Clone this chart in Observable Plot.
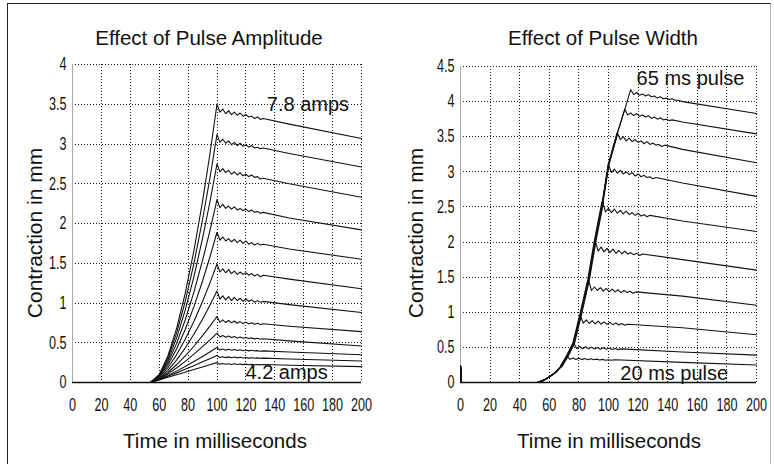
<!DOCTYPE html>
<html>
<head>
<meta charset="utf-8">
<script src="https://cdn.jsdelivr.net/npm/d3@7"></script>
<script src="https://cdn.jsdelivr.net/npm/@observablehq/plot@0.6"></script>
<style>
  body { margin: 0; background: #fff; }
  #page { position: relative; width: 774px; height: 464px; overflow: hidden; background: #fff;
          font-family: "Liberation Sans", Arial, sans-serif; color: #111; }
  .frame { position: absolute; left: 7px; top: 3px; width: 762px; height: 480px;
           border-left: 1.5px solid #222; border-top: 1.5px solid #222; border-right: 1px solid #bbb; }
  .panel { position: absolute; top: 0; }
  .title, .xlab { position: absolute; font-size: 20.5px; white-space: nowrap; transform: translateX(-50%); line-height: normal; }
  .ylab { position: absolute; font-size: 21px; white-space: nowrap; line-height: normal;
          transform: translate(-50%, -50%) rotate(-90deg); }
</style>
</head>
<body>
<div id="page">
  <div class="frame"></div>
  <div id="left" class="panel" style="left:0px"></div>
  <div id="right" class="panel" style="left:387px"></div>
  <div class="title" style="left:209px; top:26px">Effect of Pulse Amplitude</div>
  <div class="title" style="left:603px; top:26px">Effect of Pulse Width</div>
  <div class="xlab" style="left:215px; top:429px">Time in milliseconds</div>
  <div class="xlab" style="left:609px; top:429px">Time in milliseconds</div>
  <div class="ylab" style="left:35px; top:233px">Contraction in mm</div>
  <div class="ylab" style="left:416px; top:233px">Contraction in mm</div>
</div>
<script>
// ---------- axis ticks ----------
const timeTicks = [0, 20, 40, 60, 80, 100, 120, 140, 160, 180, 200];
const ampYTicks = [0, 0.5, 1, 1.5, 2, 2.5, 3, 3.5, 4];
const widthYTicks = [0, 0.5, 1, 1.5, 2, 2.5, 3, 3.5, 4, 4.5];

// ---------- left panel: effect of pulse amplitude (4.2 .. 7.8 amps) ----------
const ampRiseTimes = [0, 50, 54, 60, 66, 72, 78, 84, 90, 95];
const ampPeakTime = 100;
const ampRippleTimes = [102, 104, 106, 108, 110, 112, 114, 116, 118, 120, 122, 124, 126, 128, 130, 132, 150, 200];
const ampPeaks = [3.50, 3.12, 2.75, 2.30, 1.89, 1.49, 1.15, 0.83, 0.62, 0.44, 0.34, 0.25];
const ampRise = [
  [0, 0, 0, 0.099, 0.333, 0.678, 1.121, 1.657, 2.279, 2.862],
  [0, 0, 0, 0.094, 0.310, 0.621, 1.019, 1.496, 2.047, 2.560],
  [0, 0, 0, 0.086, 0.280, 0.558, 0.910, 1.330, 1.813, 2.261],
  [0, 0, 0, 0.080, 0.250, 0.489, 0.786, 1.136, 1.535, 1.902],
  [0, 0, 0, 0.073, 0.220, 0.421, 0.667, 0.954, 1.277, 1.572],
  [0, 0, 0, 0.063, 0.186, 0.348, 0.544, 0.768, 1.019, 1.247],
  [0, 0, 0, 0.054, 0.153, 0.281, 0.433, 0.606, 0.796, 0.968],
  [0, 0, 0, 0.048, 0.126, 0.223, 0.334, 0.456, 0.589, 0.706],
  [0, 0, 0, 0.044, 0.108, 0.183, 0.266, 0.356, 0.451, 0.534],
  [0, 0, 0, 0.038, 0.088, 0.143, 0.202, 0.263, 0.328, 0.383],
  [0, 0, 0, 0.036, 0.078, 0.121, 0.166, 0.212, 0.260, 0.300],
  [0, 0, 0, 0.033, 0.065, 0.098, 0.130, 0.163, 0.196, 0.223]
];
const ampDecay = [
  [3.40, 3.44, 3.38, 3.42, 3.37, 3.40, 3.36, 3.39, 3.35, 3.37, 3.34, 3.35, 3.32, 3.34, 3.31, 3.32, 3.25, 3.07],
  [3.02, 3.06, 3.01, 3.04, 2.99, 3.02, 2.98, 3.01, 2.97, 2.99, 2.96, 2.98, 2.95, 2.96, 2.94, 2.95, 2.88, 2.71],
  [2.65, 2.69, 2.64, 2.67, 2.62, 2.65, 2.61, 2.64, 2.60, 2.62, 2.59, 2.61, 2.58, 2.59, 2.56, 2.57, 2.50, 2.33],
  [2.20, 2.24, 2.19, 2.22, 2.18, 2.21, 2.17, 2.19, 2.16, 2.18, 2.15, 2.17, 2.14, 2.15, 2.13, 2.14, 2.07, 1.92],
  [1.79, 1.83, 1.78, 1.81, 1.77, 1.80, 1.76, 1.79, 1.75, 1.78, 1.74, 1.76, 1.73, 1.75, 1.73, 1.74, 1.68, 1.55],
  [1.39, 1.43, 1.38, 1.42, 1.37, 1.40, 1.36, 1.39, 1.36, 1.38, 1.35, 1.37, 1.34, 1.36, 1.33, 1.35, 1.30, 1.18],
  [1.05, 1.09, 1.04, 1.08, 1.03, 1.07, 1.03, 1.06, 1.02, 1.05, 1.02, 1.04, 1.01, 1.03, 1.01, 1.02, 0.98, 0.88],
  [0.757, 0.787, 0.754, 0.780, 0.750, 0.773, 0.746, 0.766, 0.741, 0.759, 0.738, 0.752, 0.733, 0.746, 0.730, 0.739, 0.708, 0.64],
  [0.573, 0.591, 0.570, 0.585, 0.565, 0.579, 0.561, 0.573, 0.557, 0.567, 0.553, 0.561, 0.549, 0.556, 0.545, 0.550, 0.523, 0.46],
  [0.409, 0.422, 0.407, 0.418, 0.405, 0.414, 0.403, 0.412, 0.400, 0.408, 0.398, 0.405, 0.397, 0.401, 0.394, 0.398, 0.384, 0.35],
  [0.314, 0.325, 0.313, 0.322, 0.311, 0.320, 0.310, 0.317, 0.308, 0.315, 0.307, 0.312, 0.305, 0.310, 0.304, 0.307, 0.296, 0.27],
  [0.229, 0.238, 0.229, 0.236, 0.227, 0.235, 0.227, 0.232, 0.225, 0.231, 0.224, 0.228, 0.224, 0.227, 0.222, 0.226, 0.217, 0.20]
];
const ampNoteText = ["7.8 amps", "4.2 amps"];
const ampNoteX = [134.5, 119.7];
const ampNoteY = [3.5, 0.126];

// ---------- right panel: effect of pulse width (20 .. 65 ms) ----------
const widthRiseTimes = [0, 0.6, 52, 56, 60, 64, 68];
const widthRiseValues = [0.24, 0, 0, 0.03, 0.08, 0.14, 0.23];
const widthPeakTimes = [72, 76.5, 81, 86.5, 91, 96, 100, 106, 111, 115];
const widthPeaks = [0.37, 0.56, 0.95, 1.46, 2.02, 2.56, 3.10, 3.55, 3.89, 4.17];
const widthRippleStep = 2; // ms between ripple samples after each peak
const widthTailTimes = [150, 200];
const widthDecay = [
  [0.330, 0.349, 0.328, 0.344, 0.326, 0.341, 0.324, 0.337, 0.323, 0.333, 0.320, 0.329, 0.318, 0.325, 0.316, 0.323, 0.286, 0.25],
  [0.483, 0.515, 0.481, 0.509, 0.479, 0.504, 0.477, 0.498, 0.475, 0.494, 0.472, 0.488, 0.470, 0.483, 0.468, 0.479, 0.435, 0.39],
  [0.844, 0.892, 0.840, 0.882, 0.836, 0.874, 0.832, 0.864, 0.828, 0.856, 0.824, 0.847, 0.819, 0.839, 0.815, 0.830, 0.78, 0.68],
  [1.31, 1.36, 1.31, 1.35, 1.30, 1.34, 1.29, 1.33, 1.29, 1.32, 1.28, 1.31, 1.28, 1.30, 1.27, 1.29, 1.23, 1.10],
  [1.87, 1.93, 1.86, 1.91, 1.85, 1.90, 1.84, 1.88, 1.83, 1.87, 1.83, 1.85, 1.82, 1.84, 1.81, 1.83, 1.75, 1.60],
  [2.43, 2.48, 2.42, 2.47, 2.41, 2.45, 2.40, 2.44, 2.39, 2.42, 2.38, 2.41, 2.37, 2.39, 2.36, 2.38, 2.30, 2.15],
  [2.99, 3.04, 2.98, 3.02, 2.97, 3.00, 2.96, 2.99, 2.94, 2.97, 2.93, 2.95, 2.92, 2.93, 2.90, 2.92, 2.84, 2.65],
  [3.46, 3.50, 3.44, 3.48, 3.43, 3.46, 3.42, 3.44, 3.40, 3.43, 3.39, 3.41, 3.38, 3.39, 3.36, 3.38, 3.32, 3.13],
  [3.81, 3.84, 3.80, 3.83, 3.79, 3.81, 3.78, 3.80, 3.76, 3.78, 3.75, 3.77, 3.74, 3.75, 3.73, 3.74, 3.71, 3.54],
  [4.10, 4.13, 4.09, 4.11, 4.08, 4.10, 4.07, 4.08, 4.05, 4.07, 4.04, 4.05, 4.03, 4.04, 4.02, 4.02, 4.00, 3.83]
];
const widthNoteText = ["65 ms pulse", "20 ms pulse"];
const widthNoteX = [119, 108];
const widthNoteY = [4.33, 0.12];

// ---------- build tables ----------
const ampPoints = [];
ampPeaks.forEach((p, i) => {
  ampRiseTimes.forEach((t, j) => ampPoints.push({curve: i, t, v: ampRise[i][j]}));
  ampPoints.push({curve: i, t: ampPeakTime, v: p});
  ampRippleTimes.forEach((t, j) => ampPoints.push({curve: i, t, v: ampDecay[i][j]}));
});

const risePts = widthRiseTimes.map((t, j) => ({t, v: widthRiseValues[j]}));
const peakPts = widthPeakTimes.map((t, j) => ({t, v: widthPeaks[j]}));
const widthPoints = [];
widthPeaks.forEach((p, i) => {
  risePts.forEach(d => widthPoints.push({curve: i, t: d.t, v: d.v}));
  peakPts.slice(0, i + 1).forEach(d => widthPoints.push({curve: i, t: d.t, v: d.v}));
  const tp = widthPeakTimes[i];
  const n = widthDecay[i].length - widthTailTimes.length;
  widthDecay[i].forEach((v, k) => {
    const t = k < n ? tp + widthRippleStep * (k + 1) : widthTailTimes[k - n];
    widthPoints.push({curve: i, t, v});
  });
});
const thickLower = [risePts[risePts.length - 1], ...peakPts.slice(0, 6)];
const thickUpper = peakPts.slice(5, 8);

const notes = (texts, xs, ys) => texts.map((text, i) => ({text, x: xs[i], y: ys[i]}));

const gridStyle = {stroke: "#000", strokeWidth: 1, strokeDasharray: "1,2", strokeOpacity: 0.9, shapeRendering: "crispEdges"};
const tickFont = '"Liberation Sans", Arial, sans-serif';

// tick labels in the original are tall and condensed: squeeze each one about its own anchor
function condenseTicks(svg, sx) {
  svg.querySelectorAll('g[aria-label$="tick label"] text').forEach(t => {
    const tr = t.getAttribute("transform") || "";
    t.setAttribute("transform", `${tr} scale(${sx},1)`);
  });
  return svg;
}

function panel({yDomain, yTicks, points, notesData, extra, marginLeft, marginRight, marginTop}) {
  const svg = Plot.plot({
    width: 387,
    height: 440,
    marginLeft, marginRight, marginTop, marginBottom: 58,
    x: {domain: [0, 200]},
    y: {domain: yDomain},
    style: {background: "transparent", fontFamily: tickFont, fontSize: "18px", color: "#111", overflow: "visible"},
    marks: [
      Plot.ruleX(timeTicks, gridStyle),
      Plot.ruleY(yTicks, gridStyle),
      Plot.ruleX([0], {stroke: "#aaa", strokeWidth: 1, shapeRendering: "crispEdges"}),
      Plot.text(notesData, {x: "x", y: "y", text: "text", textAnchor: "start", fontSize: 20,
        fontFamily: '"Liberation Sans", Arial, sans-serif', fill: "#111"}),
      Plot.line(points, {x: "t", y: "v", z: "curve", stroke: "#111", strokeWidth: 1.1, curve: "linear"}),
      ...extra,
      Plot.ruleY([0], {stroke: "#111", strokeWidth: 1.7}),
      Plot.axisX({ticks: timeTicks, tickSize: 0, tickPadding: 16, label: null, tickFormat: d => String(d)}),
      Plot.axisY({ticks: yTicks, tickSize: 0, tickPadding: 6, label: null, tickFormat: d => String(d)})
    ]
  });
  return condenseTicks(svg, 0.7);
}

document.getElementById("left").append(panel({
  yDomain: [0, 4], yTicks: ampYTicks, points: ampPoints,
  notesData: notes(ampNoteText, ampNoteX, ampNoteY), extra: [],
  marginLeft: 72, marginRight: 26, marginTop: 64
}));

document.getElementById("right").append(panel({
  yDomain: [0, 4.5], yTicks: widthYTicks, points: widthPoints,
  notesData: notes(widthNoteText, widthNoteX, widthNoteY),
  extra: [
    Plot.line(thickLower, {x: "t", y: "v", stroke: "#111", strokeWidth: 2.8}),
    Plot.line(thickUpper, {x: "t", y: "v", stroke: "#111", strokeWidth: 1.9})
  ],
  marginLeft: 73, marginRight: 18, marginTop: 66
}));
</script>
</body>
</html>
